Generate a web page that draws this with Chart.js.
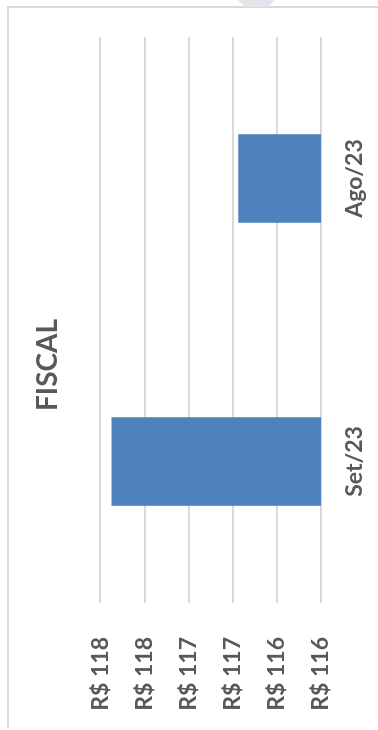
<!DOCTYPE html>
<html>
<head>
<meta charset="utf-8">
<script src="https://cdn.jsdelivr.net/npm/chart.js@4"></script>
<style>
  html, body { margin: 0; padding: 0; background: #fff; overflow: hidden; }
  #page { position: relative; width: 378px; height: 730px; }
  #frame {
    position: absolute; left: 7px; top: 6px; right: -10px; bottom: 2px;
    border-left: 2px solid #d9d9d9; border-top: 2px solid #d9d9d9;
  }
  #smudge {
    position: absolute; left: 238px; top: 0; width: 37px; height: 7px;
    background: #e4e4ea; clip-path: polygon(0 0, 100% 0, 82% 100%, 22% 100%);
  }
  /* o gráfico original é de colunas, girado 90° */
  #rot {
    position: absolute; left: 0; top: 0; width: 730px; height: 378px;
    transform-origin: 0 0; transform: translateY(730px) rotate(-90deg);
  }
</style>
</head>
<body>
<div id="page">
  <div id="frame"></div>
  <div id="smudge"></div>
  <div id="rot"><canvas id="chartFiscal" width="730" height="378"></canvas></div>
</div>
<script>
const categorias = ['Set/23', 'Ago/23'];
const valores = [117.9, 116.75];
const eixoMin = 116;
const eixoMax = 118;
const eixoPasso = 0.4;

const corTexto = '#595959';
const fonte = 'Lato, "Open Sans", sans-serif';

new Chart(document.getElementById('chartFiscal'), {
    type: 'bar',
    data: {
        labels: categorias,
        datasets: [{
            label: 'FISCAL',
            data: valores,
            backgroundColor: '#4f81bd',
            borderWidth: 0,
            categoryPercentage: 1,
            barPercentage: 0.313
        }]
    },
    options: {
        responsive: false,
        animation: false,
        layout: { padding: 0 },
        scales: {
            y: {
                min: eixoMin,
                max: eixoMax,
                afterFit: (s) => { s.width = 127; },
                afterBuildTicks: (s) => {
                    const t = [];
                    for (let v = eixoMin; v <= eixoMax + 1e-9; v += eixoPasso) t.push({ value: v });
                    s.ticks = t;
                },
                ticks: {
                    color: corTexto,
                    font: { family: fonte, size: 23, weight: 'bold' },
                    padding: 34,
                    callback: (v) => 'R$ ' + Math.round(v)
                },
                grid: { color: '#d9d9d9', lineWidth: 2, drawTicks: false },
                border: { display: false }
            },
            // eixo vazio à direita, só para reservar a margem e manter o título centrado
            margemDireita: {
                type: 'linear',
                position: 'right',
                afterFit: (s) => { s.width = 37; },
                ticks: { display: false },
                grid: { display: false, drawTicks: false },
                border: { display: false }
            },
            x: {
                afterFit: (s) => { s.height = 57; },
                ticks: {
                    color: corTexto,
                    font: { family: fonte, size: 23, weight: 'bold' },
                    padding: 20,
                    maxRotation: 0
                },
                grid: { display: false, drawTicks: false },
                border: { display: false }
            }
        },
        plugins: {
            legend: { display: false },
            tooltip: { enabled: false },
            title: {
                display: true,
                text: 'FISCAL',
                color: corTexto,
                font: { family: fonte, size: 28, weight: 'bold', lineHeight: 1.2 },
                padding: { top: 31, bottom: 35.9 }
            }
        }
    }
});
</script>
</body>
</html>
